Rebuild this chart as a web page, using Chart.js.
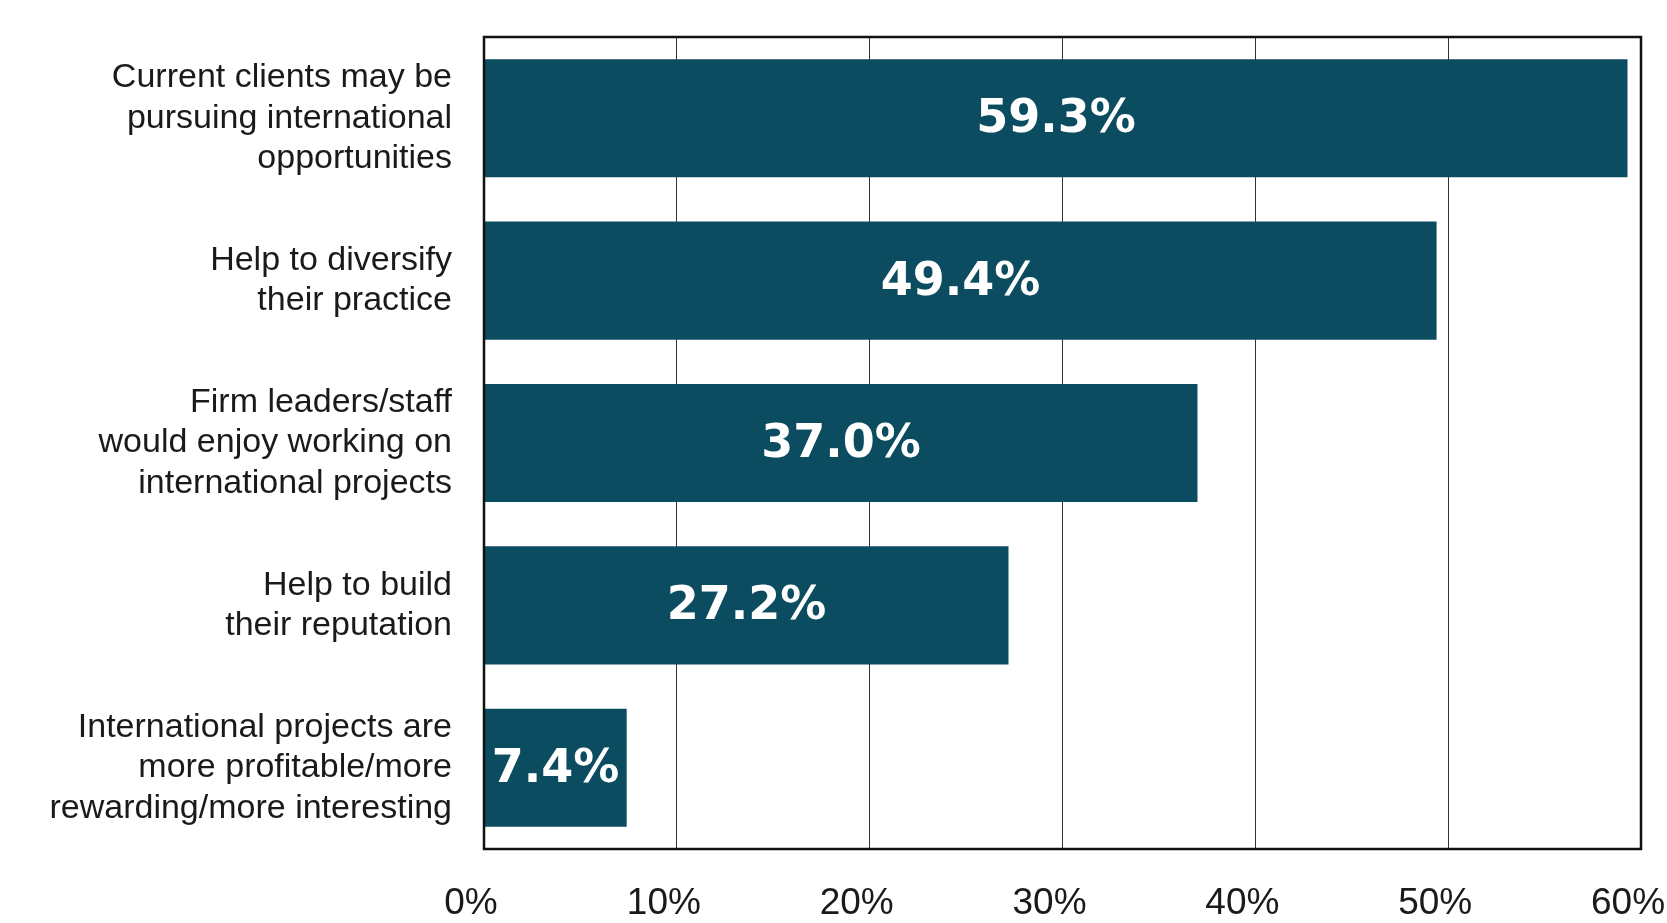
<!DOCTYPE html>
<html>
<head>
<meta charset="utf-8">
<script src="https://cdn.jsdelivr.net/npm/chart.js@4/dist/chart.umd.min.js"></script>
<style>
  html, body { margin: 0; padding: 0; background: #ffffff; }
  #wrap { width: 1667px; height: 923px; position: relative; }
</style>
</head>
<body>
<div id="wrap"><canvas id="c" width="1667" height="923"></canvas></div>
<script>
const categories = [
  ["Current clients may be", "pursuing international", "opportunities"],
  ["Help to diversify", "their practice"],
  ["Firm leaders/staff", "would enjoy working on", "international projects"],
  ["Help to build", "their reputation"],
  ["International projects are", "more profitable/more", "rewarding/more interesting"]
];
const values = [59.3, 49.4, 37.0, 27.2, 7.4];
const tickValues = [0, 10, 20, 30, 40, 50, 60];

const barColor = "#0c4c61";

const frame = {
  id: "frame",
  afterDraw(chart) {
    const a = chart.chartArea, ctx = chart.ctx;
    ctx.save();
    ctx.strokeStyle = "#111111";
    ctx.lineWidth = 2.5;
    ctx.strokeRect(a.left, a.top, a.right - a.left, a.bottom - a.top);
    ctx.restore();
  }
};

const barLabels = {
  id: "barLabels",
  afterDatasetsDraw(chart) {
    const ctx = chart.ctx;
    const meta = chart.getDatasetMeta(0);
    ctx.save();
    ctx.fillStyle = "#ffffff";
    ctx.font = "bold 46px 'DejaVu Sans'";
    ctx.textAlign = "center";
    ctx.textBaseline = "middle";
    meta.data.forEach((bar, i) => {
      const p = bar.getProps(["x", "y", "base"], true);
      const cx = (p.x + p.base) / 2;
      ctx.fillText(values[i].toFixed(1) + "%", cx, p.y + 2);
    });
    ctx.restore();
  }
};

new Chart(document.getElementById("c"), {
  type: "bar",
  data: {
    labels: categories,
    datasets: [{
      data: values,
      backgroundColor: barColor,
      borderWidth: 0,
      categoryPercentage: 0.727,
      barPercentage: 1.0
    }]
  },
  options: {
    indexAxis: "y",
    responsive: false,
    animation: false,
    devicePixelRatio: 1,
    layout: { padding: { top: 37, right: 26, bottom: 0, left: 0 } },
    plugins: { legend: { display: false }, tooltip: { enabled: false } },
    scales: {
      x: {
        type: "linear",
        min: 0,
        max: 60,
        afterBuildTicks(scale) {
          scale.ticks = tickValues.map(v => ({ value: v }));
        },
        ticks: {
          callback: v => v + "%",
          color: "#1a1a1a",
          font: { family: "'Liberation Sans', Arial, sans-serif", size: 37 },
          padding: 33,
          labelOffset: -13,
          maxRotation: 0,
          autoSkip: false
        },
        grid: { color: "#333333", lineWidth: 1, drawTicks: false },
        border: { display: false },
        afterFit(scale) {
          scale.height = 74;
          scale.paddingLeft = 0;
          scale.paddingRight = 0;
        }
      },
      y: {
        ticks: {
          color: "#1a1a1a",
          font: { family: "'Liberation Sans', Arial, sans-serif", size: 34, lineHeight: 1.19 },
          padding: 32,
          autoSkip: false
        },
        grid: { display: false, drawTicks: false },
        border: { display: false },
        afterFit(scale) {
          scale.width = 484;
          scale.paddingTop = 0;
          scale.paddingBottom = 0;
        }
      }
    }
  },
  plugins: [frame, barLabels]
});
</script>
</body>
</html>
